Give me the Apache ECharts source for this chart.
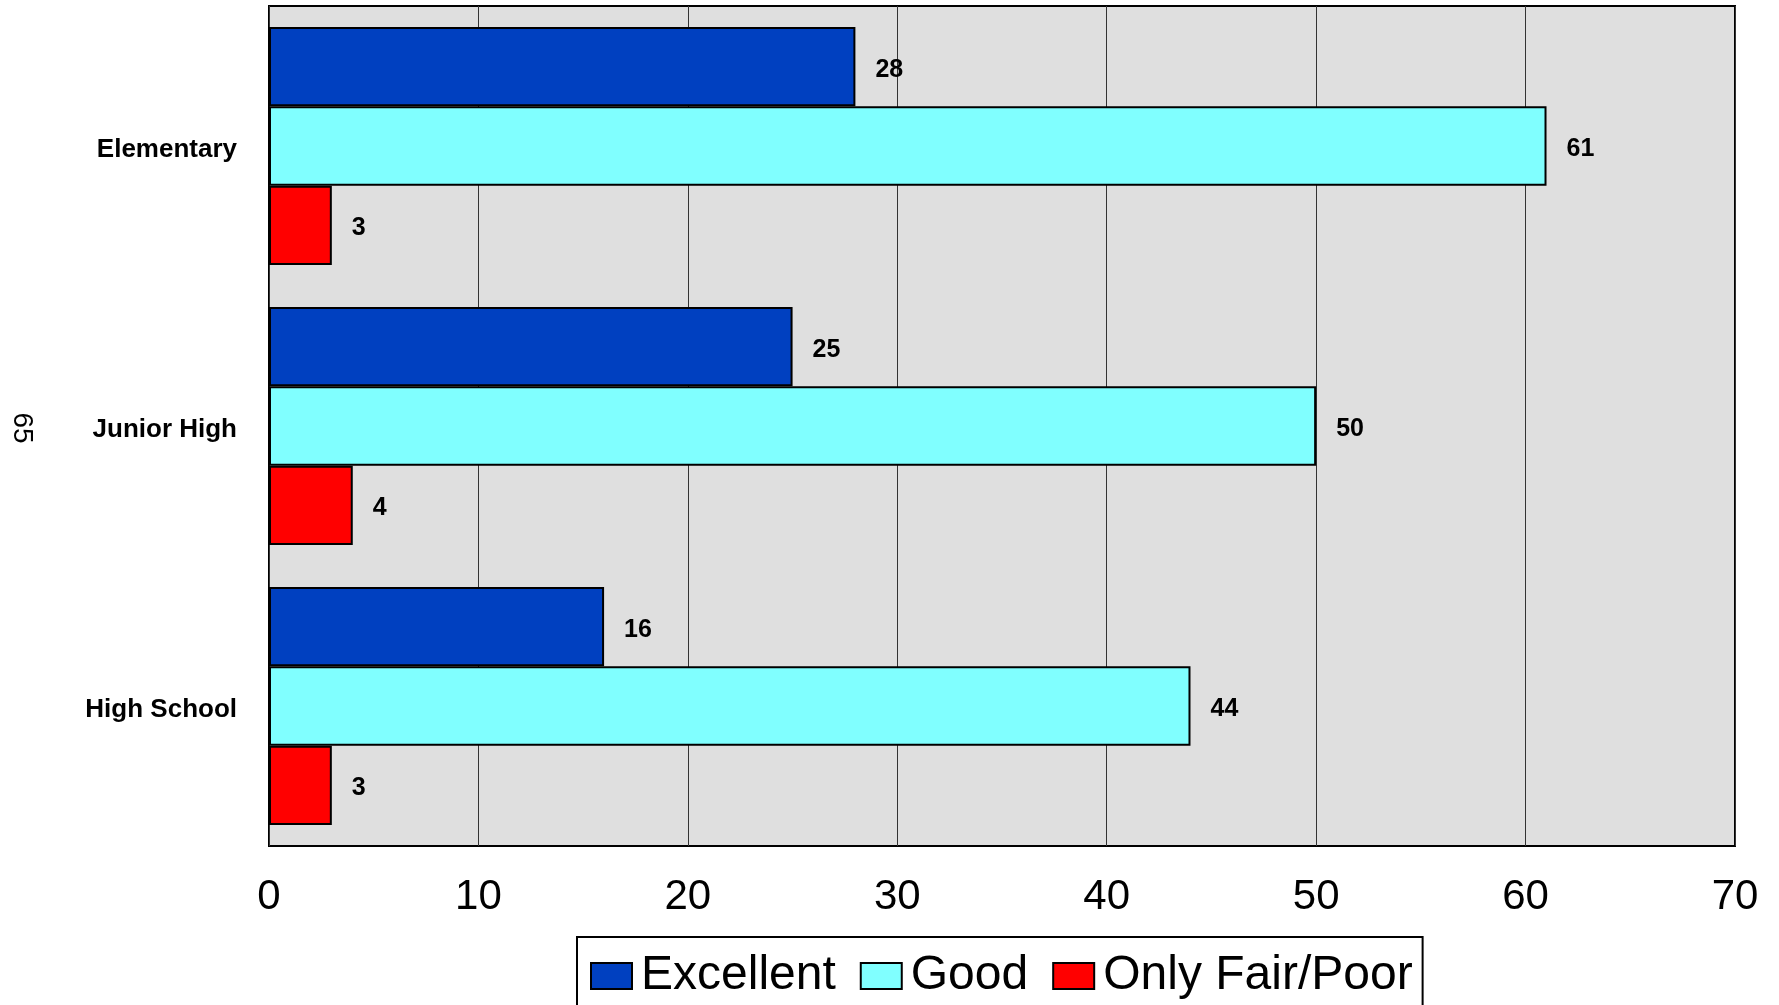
<!DOCTYPE html>
<html>
<head>
<meta charset="utf-8">
<script src="https://cdn.jsdelivr.net/npm/echarts@6/dist/echarts.min.js"></script>
<style>
html,body{margin:0;padding:0;background:#fff;}
#main{width:1779px;height:1005px;}
</style>
</head>
<body>
<div id="main"></div>
<script>
var categories = ['Elementary', 'Junior High', 'High School'];
var excellent = [28, 25, 16];
var good = [61, 50, 44];
var fairPoor = [3, 4, 3];
var seriesNames = ['Excellent', 'Good', 'Only Fair/Poor'];
var colors = ['#0040C0', '#80FFFF', '#FF0000'];

var chart = echarts.init(document.getElementById('main'));

// bar style shared by all three series
function barSeries(name, data, color) {
	return {
		name: name,
		type: 'bar',
		data: data,
		barGap: '0%',
		barCategoryGap: '15%',
		itemStyle: {color: color, borderColor: '#000', borderWidth: 2},
		label: {
			show: true,
			position: 'right',
			distance: 20,
			offset: [0, 3],
			color: '#000',
			fontWeight: 'bold',
			fontSize: 25,
			fontFamily: 'Liberation Sans, Arial, sans-serif'
		}
	};
}

var option = {
	animation: false,
	color: colors,
	grid: {left: 269, right: 44, top: 6, bottom: 159, show: true,
		backgroundColor: '#DFDFDF', borderColor: '#000', borderWidth: 2},
	legend: {
		data: seriesNames,
		left: 577,
		top: 937,
		itemWidth: 41,
		itemHeight: 26,
		itemGap: 24,
		padding: [15, 10, 40, 13],
		borderColor: '#000',
		borderWidth: 2,
		icon: 'rect',
		itemStyle: {borderColor: '#000', borderWidth: 2},
		textStyle: {color: '#000', fontSize: 48, padding: [0, 0, 0, 4],
			fontFamily: 'Liberation Sans, Arial, sans-serif'}
	},
	xAxis: {
		type: 'value',
		min: 0,
		max: 70,
		interval: 10,
		axisLine: {show: false},
		axisTick: {show: false},
		splitLine: {show: true, lineStyle: {color: '#333', width: 1}},
		axisLabel: {color: '#000', fontSize: 42, margin: 30,
			fontFamily: 'Liberation Sans, Arial, sans-serif'}
	},
	yAxis: {
		type: 'category',
		data: categories,
		inverse: true,
		axisLine: {show: false},
		axisTick: {show: false},
		axisLabel: {color: '#000', fontSize: 26, fontWeight: 'bold', margin: 32,
			verticalAlign: 'top', lineHeight: 8,
			fontFamily: 'Liberation Sans, Arial, sans-serif'}
	},
	graphic: [{
		type: 'text',
		x: 22,
		y: 428,
		rotation: -Math.PI / 2,
		style: {text: '65', fontSize: 28, fill: '#000', textAlign: 'center',
			textVerticalAlign: 'middle', fontFamily: 'Liberation Sans, Arial, sans-serif'}
	}],
	series: [
		barSeries(seriesNames[0], excellent, colors[0]),
		barSeries(seriesNames[1], good, colors[1]),
		barSeries(seriesNames[2], fairPoor, colors[2])
	]
};
chart.setOption(option);
</script>
</body>
</html>
